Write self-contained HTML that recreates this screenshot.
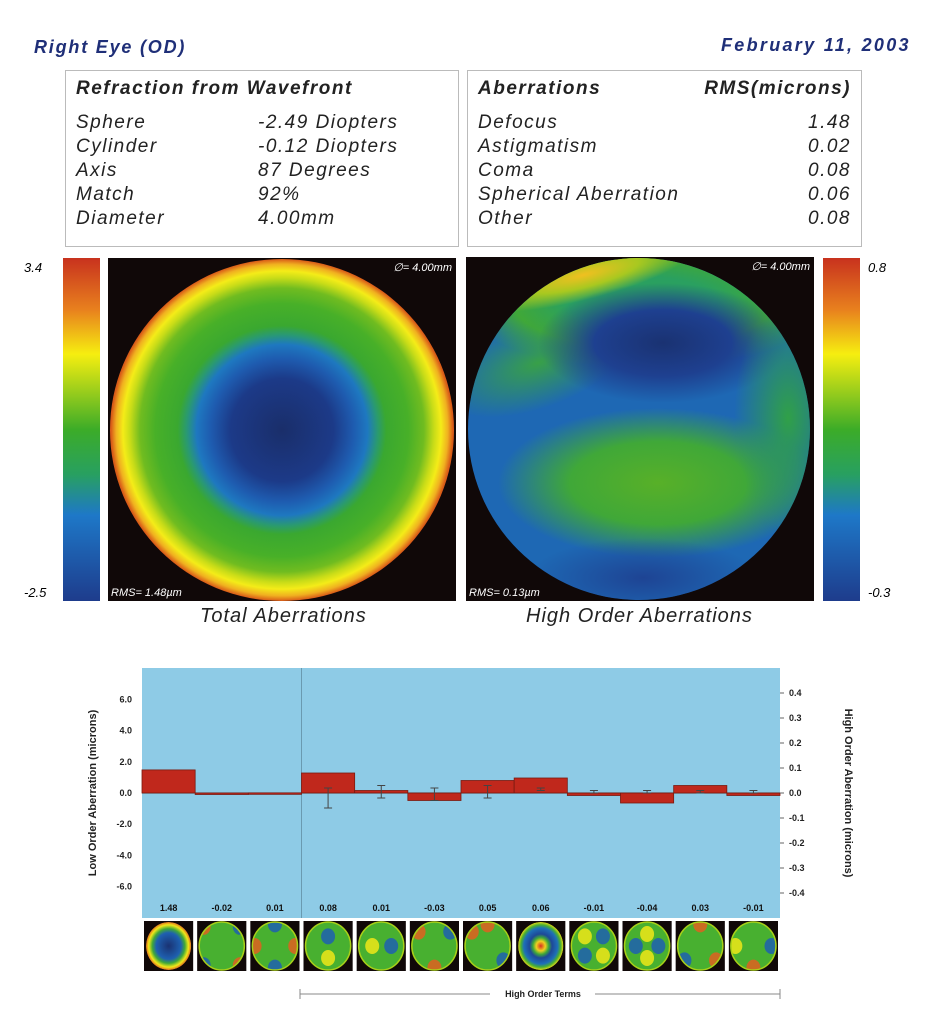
<!DOCTYPE html>
<html><head><meta charset="utf-8"><style>
body{margin:0;background:#fff;width:933px;height:1016px;position:relative;overflow:hidden;font-family:"Liberation Sans",sans-serif;}
.a{position:absolute}
.hd{color:#1f2f78;font-weight:bold;font-style:italic;font-size:18px;letter-spacing:1.8px}
.box{position:absolute;border:1px solid #bbb;background:#fff;font-style:italic;font-size:19px;color:#222;letter-spacing:1.5px}
.row{position:absolute;left:10px;right:10px}
.cap{font-size:20px;color:#222;font-style:italic;letter-spacing:1px}
</style></head><body>
<div class="a hd" style="left:34px;top:37px">Right Eye (OD)</div>
<div class="a hd" style="left:721px;top:35px;letter-spacing:2.3px">February 11, 2003</div>

<div class="box" style="left:65px;top:70px;width:392px;height:175px">
 <div class="row" style="top:7px"><b>Refraction from Wavefront</b></div>
 <div class="row" style="top:41px">Sphere<span class="a" style="left:182px">-2.49 Diopters</span></div>
 <div class="row" style="top:65px">Cylinder<span class="a" style="left:182px">-0.12 Diopters</span></div>
 <div class="row" style="top:89px">Axis<span class="a" style="left:182px">87 Degrees</span></div>
 <div class="row" style="top:113px">Match<span class="a" style="left:182px">92%</span></div>
 <div class="row" style="top:137px">Diameter<span class="a" style="left:182px">4.00mm</span></div>
</div>
<div class="box" style="left:467px;top:70px;width:393px;height:175px">
 <div class="row" style="top:7px"><b>Aberrations</b><b style="float:right">RMS(microns)</b></div>
 <div class="row" style="top:41px">Defocus<span style="float:right">1.48</span></div>
 <div class="row" style="top:65px">Astigmatism<span style="float:right">0.02</span></div>
 <div class="row" style="top:89px">Coma<span style="float:right">0.08</span></div>
 <div class="row" style="top:113px">Spherical Aberration<span style="float:right">0.06</span></div>
 <div class="row" style="top:137px">Other<span style="float:right">0.08</span></div>
</div>

<div class="a" style="left:63px;top:258px;width:37px;height:343px;background:linear-gradient(#c8321e,#e8801e 15%,#f6ee10 28%,#3cac28 50%,#28a060 63%,#1e78c8 75%,#1e3c8c 100%)"></div>
<div class="a" style="left:24px;top:260px;font-size:13px;font-style:italic">3.4</div>
<div class="a" style="left:24px;top:585px;font-size:13px;font-style:italic">-2.5</div>
<div class="a" style="left:108px;top:258px;width:348px;height:343px;background:#100808">
 <div class="a" style="left:2px;top:1px;width:344px;height:342px;border-radius:50%;background:radial-gradient(circle closest-side at 50% 50%,#1a2e6a 0%,#1c3a88 30%,#1e5cb0 42%,#1e78c0 50%,#2a9a70 56%,#3aa830 61%,#48b028 74%,#70bc20 83%,#c8dc18 89%,#f4ec18 93%,#f0b020 97%,#d85a18 100%)"></div>
 <div class="a" style="right:4px;top:3px;color:#fff;font-size:11px;font-style:italic">∅= 4.00mm</div>
 <div class="a" style="left:3px;bottom:2px;color:#fff;font-size:11px;font-style:italic">RMS= 1.48µm</div>
</div>
<div class="a" style="left:466px;top:257px;width:348px;height:344px;background:#100808">
 <div class="a" style="left:2px;top:1px;width:342px;height:342px;border-radius:50%;overflow:hidden;background:#1e68b4">
  <div class="a" style="left:-10px;top:-20px;width:370px;height:130px;border-radius:50%;background:radial-gradient(closest-side,#2aa060 40%,#40a838 70%,rgba(30,104,180,0) 100%)"></div>
  <div class="a" style="left:0px;top:-8px;width:230px;height:50px;border-radius:50%;background:radial-gradient(closest-side,#f0c020,#a8c820 50%,rgba(64,168,56,0) 100%);transform:rotate(-14deg)"></div>
  <div class="a" style="left:-30px;top:60px;width:200px;height:90px;border-radius:50%;background:radial-gradient(closest-side,#38a048,rgba(30,104,180,0) 100%);transform:rotate(-20deg)"></div>
  <div class="a" style="left:70px;top:25px;width:250px;height:120px;border-radius:50%;background:radial-gradient(closest-side,#1a3272,#1e4090 55%,rgba(30,104,180,0) 100%)"></div>
  <div class="a" style="left:30px;top:150px;width:320px;height:150px;border-radius:50%;background:radial-gradient(closest-side,#58b028,#40a838 55%,rgba(30,104,180,0) 100%)"></div>
  <div class="a" style="left:260px;top:30px;width:120px;height:260px;border-radius:50%;background:radial-gradient(closest-side,#30a048,rgba(30,104,180,0) 90%)"></div>
  <div class="a" style="left:60px;top:280px;width:230px;height:80px;border-radius:50%;background:radial-gradient(closest-side,#1e4494,rgba(30,104,180,0) 100%)"></div>
 </div>
 <div class="a" style="right:4px;top:3px;color:#fff;font-size:11px;font-style:italic">∅= 4.00mm</div>
 <div class="a" style="left:3px;bottom:2px;color:#fff;font-size:11px;font-style:italic">RMS= 0.13µm</div>
</div>
<div class="a" style="left:823px;top:258px;width:37px;height:343px;background:linear-gradient(#c8321e,#e8801e 15%,#f6ee10 28%,#3cac28 50%,#28a060 63%,#1e78c8 75%,#1e3c8c 100%)"></div>
<div class="a" style="left:868px;top:260px;font-size:13px;font-style:italic">0.8</div>
<div class="a" style="left:868px;top:585px;font-size:13px;font-style:italic">-0.3</div>
<div class="a cap" style="left:200px;top:605px">Total Aberrations</div>
<div class="a cap" style="left:526px;top:605px">High Order Aberrations</div>

<svg class="a" style="left:0;top:0" width="933" height="1016">
 <defs id="defs">
  <radialGradient id="thB"><stop offset="0" stop-color="#1a3272"/><stop offset="0.55" stop-color="#1e60b0"/><stop offset="0.72" stop-color="#40a838"/><stop offset="0.88" stop-color="#f0e818"/><stop offset="1" stop-color="#e07020"/></radialGradient>
  <radialGradient id="thS"><stop offset="0" stop-color="#d83020"/><stop offset="0.2" stop-color="#f0d020"/><stop offset="0.35" stop-color="#40a838"/><stop offset="0.5" stop-color="#1e4898"/><stop offset="0.75" stop-color="#1e70b8"/><stop offset="0.88" stop-color="#48b030"/><stop offset="1" stop-color="#e0d818"/></radialGradient>
 </defs>
 <g id="g"></g>
</svg>
<script>
const terms=["Defocus","Astig1","Astig2","Coma1","Coma2","Trefoil1","Trefoil2","Spherical","T4a","T4b","T4c","T4d"];
const values=[1.48,-0.02,0.01,0.08,0.01,-0.03,0.05,0.06,-0.01,-0.04,0.03,-0.01];
const lowOrder=[true,true,true,false,false,false,false,false,false,false,false,false];
const errLow=[0,0,0,-0.06,-0.02,-0.03,-0.02,0.01,0,0,0,0];
const errHigh=[0,0,0,0.02,0.03,0.02,0.03,0.02,0.01,0.01,0.01,0.01];
const leftTicks=["6.0","4.0","2.0","0.0","-2.0","-4.0","-6.0"];
const leftVals=[6,4,2,0,-2,-4,-6];
const rightTicks=["0.4","0.3","0.2","0.1","0.0","-0.1","-0.2","-0.3","-0.4"];
const rightVals=[0.4,0.3,0.2,0.1,0,-0.1,-0.2,-0.3,-0.4];
const NS="http://www.w3.org/2000/svg";
const g=document.getElementById('g');
const defs=document.getElementById('defs');
const X0=142,X1=780,Y0=668,Y1=918,Z=793;
const yL=v=>Z-v*15.6, yR=v=>Z-v*250;
const cw=(X1-X0)/terms.length;
const xB=i=>X0+i*cw;
function mk(t,a,p){const e=document.createElementNS(NS,t);for(const k in a)e.setAttribute(k,a[k]);(p||g).appendChild(e);return e;}
let e=mk('rect',{x:X0,y:Y0,width:X1-X0,height:Y1-Y0,fill:'#8ecbe6'});

mk('line',{x1:X0+3*cw,x2:X0+3*cw,y1:Y0,y2:Y1,stroke:'#6a9ab0','stroke-width':1});
mk('line',{x1:X0,x2:X1,y1:Z,y2:Z,stroke:'#333','stroke-width':1});
const blobs=[[],[[0.1,0.1,'#e06020'],[0.9,0.9,'#e06020'],[0.1,0.9,'#1e60b0'],[0.9,0.1,'#1e60b0']],[[0.05,0.5,'#e06020'],[0.95,0.5,'#e06020'],[0.5,0.05,'#1e60b0'],[0.5,0.95,'#1e60b0']],[[0.5,0.3,'#1e60b0'],[0.5,0.75,'#f0e818']],[[0.3,0.5,'#f0e818'],[0.72,0.5,'#1e60b0']],[[0.15,0.2,'#e06020'],[0.85,0.2,'#1e60b0'],[0.5,0.95,'#e06020']],[[0.15,0.2,'#e06020'],[0.85,0.8,'#1e60b0'],[0.5,0.05,'#e06020']],[],[[0.3,0.3,'#f0e818'],[0.7,0.3,'#1e60b0'],[0.3,0.7,'#1e60b0'],[0.7,0.7,'#f0e818']],[[0.5,0.25,'#f0e818'],[0.5,0.75,'#f0e818'],[0.25,0.5,'#1e60b0'],[0.75,0.5,'#1e60b0']],[[0.5,0.05,'#e06020'],[0.15,0.8,'#1e60b0'],[0.85,0.8,'#e06020']],[[0.1,0.5,'#f0e818'],[0.9,0.5,'#1e60b0'],[0.5,0.95,'#e06020']]];
values.forEach((v,i)=>{
 const y=lowOrder[i]?yL(v):yR(v);
 const r=mk('rect',{x:xB(i),y:Math.min(y,Z),width:cw,height:Math.max(1.5,Math.abs(Z-y)),fill:'#c0281c',stroke:'#7a1a10','stroke-width':0.8});
 
 
 if(!lowOrder[i]){const cx=xB(i)+cw/2,a=yR(errHigh[i]),b=yR(errLow[i]);
  mk('line',{x1:cx,x2:cx,y1:a,y2:b,stroke:'#444'});
  mk('line',{x1:cx-4,x2:cx+4,y1:a,y2:a,stroke:'#444'});mk('line',{x1:cx-4,x2:cx+4,y1:b,y2:b,stroke:'#444'});}
 const t=mk('text',{x:xB(i)+cw/2,y:911,'text-anchor':'middle','font-size':9,'font-weight':'bold',fill:'#111'});
 t.textContent=v.toFixed(2);
 
 const th=mk('rect',{x:xB(i)+2,y:921,width:cw-4,height:50,fill:'#100808'});
 
 const cx=xB(i)+cw/2,rx=cw/2-4;
 const cp=mk('clipPath',{id:'cp'+i},defs);mk('ellipse',{cx:cx,cy:946,rx:rx,ry:24},cp);
 const gg=mk('g',{'clip-path':'url(#cp'+i+')'});
 mk('ellipse',{cx:cx,cy:946,rx:rx,ry:24,fill:i==0?'url(#thB)':(i==7?'url(#thS)':'#48b030')},gg);
 (blobs[i]||[]).forEach(b=>{mk('ellipse',{cx:cx-rx+b[0]*2*rx,cy:922+b[1]*48,rx:7,ry:8,fill:b[2],opacity:0.85},gg);});
 if(i!=0&&i!=7)mk('ellipse',{cx:cx,cy:946,rx:rx,ry:24,fill:'none',stroke:'#a8d018','stroke-width':1.5});
});
leftVals.forEach((v,i)=>{const t=mk('text',{x:132,y:yL(v)+3,'text-anchor':'end','font-size':9,'font-weight':'bold',fill:'#222'});t.textContent=leftTicks[i];});
rightVals.forEach((v,i)=>{mk('line',{x1:X1,x2:X1+4,y1:yR(v),y2:yR(v),stroke:'#666'});const t=mk('text',{x:X1+9,y:yR(v)+3,'font-size':9,'font-weight':'bold',fill:'#222'});t.textContent=rightTicks[i];});
let lt=mk('text',{x:0,y:0,transform:'translate(96,793) rotate(-90)','text-anchor':'middle','font-size':11,'font-weight':'bold',fill:'#222'});lt.textContent='Low Order Aberration (microns)';

let rt=mk('text',{x:0,y:0,transform:'translate(845,793) rotate(90)','text-anchor':'middle','font-size':11,'font-weight':'bold',fill:'#222'});rt.textContent='High Order Aberration (microns)';

mk('line',{x1:300,x2:490,y1:994,y2:994,stroke:'#888'});mk('line',{x1:595,x2:780,y1:994,y2:994,stroke:'#888'});
mk('line',{x1:300,x2:300,y1:989,y2:999,stroke:'#888'});mk('line',{x1:780,x2:780,y1:989,y2:999,stroke:'#888'});
let ht=mk('text',{x:543,y:997,'text-anchor':'middle','font-size':9,'font-weight':'bold',fill:'#222'});ht.textContent='High Order Terms';

</script>
</body></html>
